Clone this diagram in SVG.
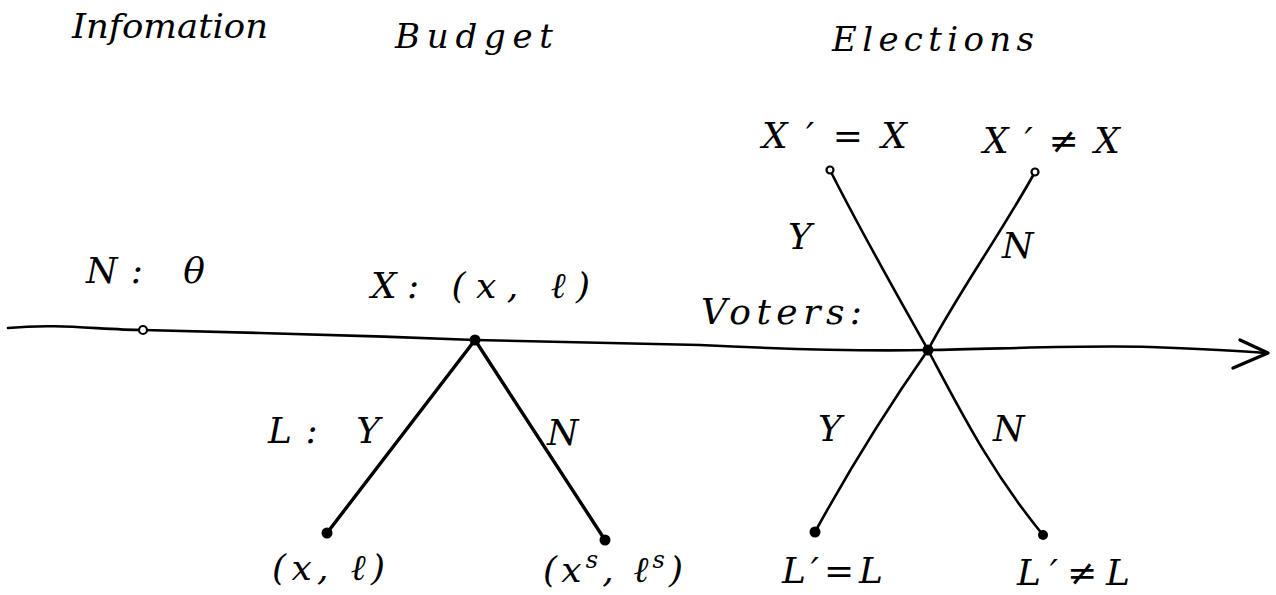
<svg xmlns="http://www.w3.org/2000/svg" width="1276" height="595" viewBox="0 0 1276 595">
<style>
text{font-family:"DejaVu Serif","Liberation Serif",serif;font-style:italic;fill:#000;font-size:36px}
.hd{font-size:34px}
.ln{stroke:#000;fill:none;stroke-linecap:round;stroke-linejoin:round}
.thick{stroke-width:3.4}
.thin{stroke-width:2.6}
.dot{fill:#000}
.odot{fill:#fff;stroke:#000;stroke-width:2.2}
</style>
<rect width="1276" height="595" fill="#fff"/>
<g id="headers">
<text class="hd" x="72" y="38" textLength="196" lengthAdjust="spacingAndGlyphs">Infomation</text>
<text class="hd" x="395" y="48" textLength="158" lengthAdjust="spacing">Budget</text>
<text class="hd" x="832" y="51" textLength="202" lengthAdjust="spacing">Elections</text>
</g>
<g id="connectors">
<path class="ln thin" d="M8,328 C60,323 100,330 143,330 C180,331 220,332 260,333 C340,335 400,337 475,340 C560,342 640,343 700,345 C800,350 870,351 928,350 C1000,349 1080,345 1150,347 C1200,349 1240,351 1266,353"/>
<path class="ln thick" d="M1240,340 L1268,353 L1233,368"/>
<path class="ln thick" d="M475,340 L327,533"/>
<path class="ln thick" d="M475,340 L605,540"/>
<path class="ln thin" d="M928,350 C900,300 860,230 830,170"/>
<path class="ln thin" d="M928,350 C960,290 1000,235 1035,172"/>
<path class="ln thin" d="M928,350 C900,390 860,450 815,532"/>
<path class="ln thin" d="M928,350 C960,410 990,470 1043,535"/>
</g>
<g id="node-nature">
<circle class="odot" cx="143" cy="330" r="4"/>
<text x="86" y="283" textLength="119" lengthAdjust="spacing">N:  θ</text>
</g>
<g id="node-budget">
<circle class="dot" cx="475" cy="340" r="5.5"/>
<text x="371" y="298" textLength="219" lengthAdjust="spacing">X: (x, ℓ)</text>
<text x="268" y="443" textLength="112" lengthAdjust="spacing">L: Y</text>
<text x="547" y="445">N</text>
</g>
<g id="leaf-budget-yes">
<circle class="dot" cx="327" cy="533" r="5.5"/>
<text x="272" y="580" textLength="113" lengthAdjust="spacing">(x, ℓ)</text>
</g>
<g id="leaf-budget-no">
<circle class="dot" cx="605" cy="540" r="5.5"/>
<text x="543" y="582" textLength="140" lengthAdjust="spacing">(x<tspan font-size="24" dy="-14">s</tspan><tspan dy="14">, ℓ</tspan><tspan font-size="24" dy="-14">s</tspan><tspan dy="14">)</tspan></text>
</g>
<g id="node-voters">
<circle class="dot" cx="928" cy="350" r="5.5"/>
<text x="701" y="324" textLength="161" lengthAdjust="spacing">Voters:</text>
<text x="788" y="249">Y</text>
<text x="1002" y="258">N</text>
<text x="818" y="441">Y</text>
<text x="993" y="441">N</text>
</g>
<g id="leaf-x-same">
<circle class="odot" cx="830" cy="170" r="3.5"/>
<text x="762" y="148" textLength="145" lengthAdjust="spacing">X′=X</text>
</g>
<g id="leaf-x-diff">
<circle class="odot" cx="1035" cy="172" r="3.5"/>
<text x="983" y="153" textLength="137" lengthAdjust="spacing">X′≠X</text>
</g>
<g id="leaf-l-same">
<circle class="dot" cx="815" cy="532" r="5.5"/>
<text x="782" y="583" textLength="101" lengthAdjust="spacing">L′=L</text>
</g>
<g id="leaf-l-diff">
<circle class="dot" cx="1043" cy="535" r="5"/>
<text x="1017" y="585" textLength="113" lengthAdjust="spacing">L′≠L</text>
</g>
</svg>
